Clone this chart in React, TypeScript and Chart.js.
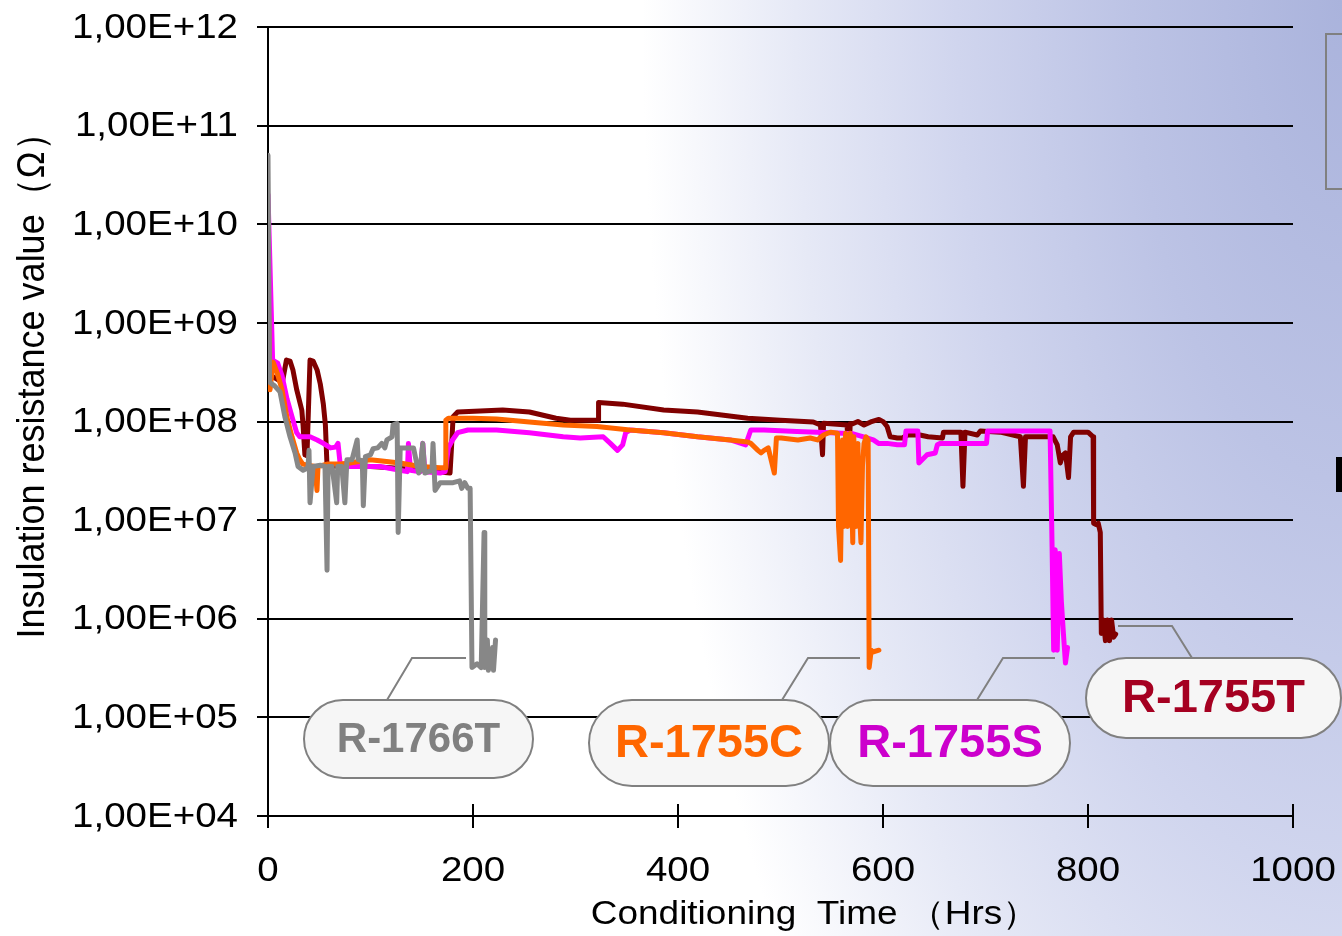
import React, { useEffect, useRef } from "react";
import { Chart, registerables } from "chart.js";

Chart.register(...registerables);

// ---------- data (hours, ohms) ----------
const grayHours = [0, 1.5, 6.5, 11.7, 16.6, 21.5, 26.4, 29.3, 34.2, 39, 40, 41, 44, 51, 55.6, 57.6, 58.6, 62.5, 67, 68, 72, 75, 77, 82, 87, 88, 92, 93, 95, 100, 102.5, 107, 111, 114, 116, 121, 122, 126, 127, 129, 136, 142, 147, 148.4, 151, 153, 160, 161, 163, 168, 175, 180.6, 187, 189, 192, 195, 197.2, 199, 204, 208, 210.8, 211.5, 214, 215, 219, 220, 222];
const grayValues = [5e10, 2.5e8, 2.3e8, 2.0e8, 1.1e8, 7e7, 4.8e7, 3.5e7, 3.2e7, 3.4e7, 5.1e7, 1.5e7, 3.5e7, 3.6e7, 3.5e7, 3.1e6, 3.5e7, 3.5e7, 1.5e7, 3.5e7, 3.5e7, 1.5e7, 4.1e7, 4.1e7, 6.5e7, 4.1e7, 4.0e7, 1.4e7, 4.4e7, 4.6e7, 5.3e7, 5.4e7, 6.0e7, 5.4e7, 6.5e7, 7.0e7, 9.2e7, 9.6e7, 7.5e6, 5.4e7, 5.4e7, 5.4e7, 3.0e7, 3.2e7, 6.0e7, 3.0e7, 3.2e7, 6.0e7, 2.0e7, 2.4e7, 2.4e7, 2.4e7, 2.5e7, 2.1e7, 2.4e7, 2.1e7, 2.1e7, 3.2e5, 3.5e5, 3.2e5, 7.5e6, 3.2e5, 6.1e5, 3.0e5, 5.1e5, 3.0e5, 6.1e5];

const orangeHours = [0, 2, 5, 9, 13.7, 18.5, 23.4, 28, 31, 34, 45.9, 47.8, 48.8, 57.6, 70.3, 80, 99.6, 109, 128.8, 148.4, 167.9, 172.8, 173.5, 176, 187, 200, 223, 255, 288, 321, 353, 386, 419, 451, 468, 471, 478, 481, 484, 488, 494, 496, 500.7, 517, 529, 536, 542, 546, 549, 555.6, 556.6, 558.6, 560.5, 561.5, 563.5, 565.5, 566.5, 568, 570.5, 571.5, 573.5, 575.5, 576.5, 578.5, 580, 581.5, 583.5, 585.5, 586.5, 588.5, 590, 596];
const orangeValues = [3e9, 2.1e8, 4e8, 3.1e8, 2.1e8, 1.1e8, 7e7, 4.8e7, 4.1e7, 3.7e7, 3.5e7, 2e7, 3.5e7, 3.7e7, 3.7e7, 3.8e7, 4.1e7, 4.0e7, 3.8e7, 3.5e7, 3.4e7, 3.4e7, 1.03e8, 1.08e8, 1.08e8, 1.08e8, 1.06e8, 9.9e7, 9.2e7, 8.9e7, 8.2e7, 7.7e7, 7e7, 6.5e7, 6.2e7, 6e7, 5.1e7, 4.8e7, 5.1e7, 5.4e7, 3e7, 6.8e7, 6.8e7, 6.5e7, 6.8e7, 6.5e7, 7.3e7, 7.6e7, 7.8e7, 7.6e7, 8.6e6, 3.9e6, 6.5e7, 8.6e6, 7.6e7, 8.6e6, 6e7, 7.6e7, 5.9e6, 7e7, 8.6e6, 6e7, 1.6e7, 5.9e6, 3.6e7, 6e7, 7e7, 6.5e7, 3.2e5, 4.8e5, 4.6e5, 4.8e5];

const magentaHours = [0, 4.5, 9.5, 13.7, 18.5, 23.4, 28, 31, 41, 48, 54, 61, 66, 68.3, 70.3, 77, 90, 109, 128.8, 136, 137, 139, 148.4, 151, 153, 167.9, 172.8, 176, 180, 185, 195, 223, 255, 288, 304.6, 327, 334, 341, 346, 349, 353.5, 386, 419, 451, 466, 471, 484, 516, 549, 571, 581, 590.6, 595.6, 604, 614, 621, 622.4, 634, 635, 643, 651, 653, 656, 701, 702, 763, 765, 766.5, 768, 770, 772, 774, 776, 778, 780];
const magentaValues = [2e10, 4.2e8, 3.9e8, 2.9e8, 1.7e8, 1.12e8, 7.7e7, 7e7, 7e7, 6.5e7, 6e7, 5.4e7, 5.5e7, 6e7, 3.8e7, 3.5e7, 3.5e7, 3.5e7, 3.2e7, 3.1e7, 6e7, 3.2e7, 3.1e7, 6e7, 3.1e7, 3e7, 3.1e7, 5.4e7, 6.5e7, 7.7e7, 8.2e7, 8.2e7, 7.7e7, 7e7, 6.8e7, 7e7, 6e7, 5.1e7, 5.8e7, 7.7e7, 8.2e7, 7.7e7, 7e7, 6.5e7, 5.8e7, 8.2e7, 8.2e7, 7.9e7, 7.7e7, 7.5e7, 7e7, 6.5e7, 6e7, 6e7, 5.8e7, 5.8e7, 8e7, 8e7, 3.8e7, 4.6e7, 4.8e7, 5.8e7, 6e7, 6e7, 8e7, 8e7, 5e6, 4.8e5, 5e6, 4.8e5, 4.6e6, 1.5e6, 7.1e5, 3.55e5, 5.1e5];

const darkRedHours = [0, 1, 14, 18, 21.5, 24.4, 28, 33, 34.2, 35.5, 36, 38, 41, 44, 48, 51, 54, 56, 57.6, 80, 120, 150, 177.6, 179, 180.6, 185, 207, 229, 255, 281, 295, 322, 322.5, 346, 386, 419, 468, 500, 532, 539, 541, 542, 565, 566.5, 568, 570.5, 575.5, 581.5, 588, 596, 600.5, 604, 607, 614, 619, 624, 636, 644, 658, 659, 676, 678, 680, 692, 695, 714.5, 734, 737, 739, 766, 770, 773, 775, 778, 781, 783, 786, 800, 805, 805.5, 808, 810, 812, 813, 815, 817, 819, 821, 823, 825, 827];
const darkRedValues = [1e10, 3e8, 2.5e8, 4.2e8, 4.1e8, 3.3e8, 2.1e8, 1.3e8, 9.2e7, 5.5e7, 4.6e7, 4.5e7, 4.2e8, 4.1e8, 3.3e8, 2.4e8, 1.5e8, 9.2e7, 3.5e7, 3.6e7, 3.4e7, 3.2e7, 3.0e7, 5.4e7, 1.12e8, 1.25e8, 1.28e8, 1.31e8, 1.25e8, 1.08e8, 1.03e8, 1.03e8, 1.56e8, 1.5e8, 1.31e8, 1.25e8, 1.08e8, 1.03e8, 9.9e7, 9.2e7, 4.6e7, 9.6e7, 9.2e7, 3.5e7, 9.5e7, 9.5e7, 1.0e8, 9.2e7, 9.9e7, 1.05e8, 9.9e7, 8.9e7, 7.0e7, 6.8e7, 6.8e7, 7.3e7, 7.3e7, 7.0e7, 6.8e7, 7.8e7, 7.8e7, 2.2e7, 7.8e7, 7.3e7, 8.0e7, 7.8e7, 7.0e7, 2.2e7, 7.0e7, 7.0e7, 5.8e7, 3.8e7, 4.5e7, 4.8e7, 2.7e7, 7.0e7, 7.8e7, 7.8e7, 7.0e7, 9.3e6, 9.0e6, 9.3e6, 7.5e6, 7.1e5, 9.7e5, 6.0e5, 9.7e5, 6.0e5, 9.7e5, 6.5e5, 7.0e5];

const seriesNames = ["R-1766T", "R-1755C", "R-1755S", "R-1755T"];
const xTickValues = [0, 200, 400, 600, 800, 1000];
const xTickLabels = ["0", "200", "400", "600", "800", "1000"];
const yTickValues = [1e4, 1e5, 1e6, 1e7, 1e8, 1e9, 1e10, 1e11, 1e12];
const yTickLabels = ["1,00E+04", "1,00E+05", "1,00E+06", "1,00E+07", "1,00E+08", "1,00E+09", "1,00E+10", "1,00E+11", "1,00E+12"];
const xTitle = "Conditioning  Time （Hrs）";
const yTitle = "Insulation resistance value（Ω）";

const FONT = '"Liberation Sans", Arial, sans-serif';

function toPoints(h: number[], v: number[]) {
  return h.map((x, i) => ({ x, y: v[i] }));
}

function sText(ctx: CanvasRenderingContext2D, text: string, x: number, y: number, align: CanvasTextAlign, sx = 1.12) {
  ctx.save();
  ctx.translate(x, y);
  ctx.scale(sx, 1);
  ctx.textAlign = align;
  ctx.fillText(text, 0, 0);
  ctx.restore();
}

function pill(ctx: CanvasRenderingContext2D, x1: number, y1: number, x2: number, y2: number, text: string, color: string, size: number) {
  const r = (y2 - y1) / 2;
  ctx.beginPath();
  (ctx as any).roundRect(x1, y1, x2 - x1, y2 - y1, r);
  ctx.fillStyle = "#f6f6f6";
  ctx.fill();
  ctx.strokeStyle = "#808080";
  ctx.lineWidth = 2;
  ctx.stroke();
  ctx.fillStyle = color;
  ctx.font = `bold ${size}px ${FONT}`;
  ctx.textAlign = "center";
  ctx.textBaseline = "middle";
  ctx.fillText(text, (x1 + x2) / 2, (y1 + y2) / 2 + 1);
}

function leader(ctx: CanvasRenderingContext2D, pts: number[][]) {
  ctx.beginPath();
  ctx.moveTo(pts[0][0], pts[0][1]);
  for (let i = 1; i < pts.length; i++) ctx.lineTo(pts[i][0], pts[i][1]);
  ctx.strokeStyle = "#808080";
  ctx.lineWidth = 2;
  ctx.stroke();
}

const overlay = {
  id: "overlay",
  afterDraw(chart: any) {
    const ctx: CanvasRenderingContext2D = chart.ctx;
    const { bottom } = chart.chartArea;
    const xs = chart.scales.x;
    const ys = chart.scales.y;
    ctx.save();
    ctx.strokeStyle = "#000";
    ctx.lineWidth = 2;
    xTickValues.forEach((v) => {
      const px = Math.round(xs.getPixelForValue(v));
      ctx.beginPath();
      ctx.moveTo(px, bottom - 12);
      ctx.lineTo(px, bottom + 12);
      ctx.stroke();
    });
    ctx.fillStyle = "#000";
    ctx.font = `35px ${FONT}`;
    ctx.textBaseline = "middle";
    yTickValues.forEach((v, i) => sText(ctx, yTickLabels[i], 238, ys.getPixelForValue(v) + 1, "right", 1.1));
    xTickValues.forEach((v, i) => sText(ctx, xTickLabels[i], xs.getPixelForValue(v), bottom + 55, "center", 1.1));
    ctx.font = `33px ${FONT}`;
    sText(ctx, xTitle, 815, 915, "center", 1.12);
    ctx.save();
    ctx.font = `36px ${FONT}`;
    ctx.translate(33, 377);
    ctx.rotate(-Math.PI / 2);
    ctx.scale(1, 1.08);
    ctx.textAlign = "center";
    ctx.textBaseline = "middle";
    ctx.fillText(yTitle, 0, 0);
    ctx.restore();

    leader(ctx, [[387, 700], [412, 658], [466, 658]]);
    leader(ctx, [[782, 700], [808, 658], [860, 658]]);
    leader(ctx, [[977, 700], [1003, 658], [1055, 658]]);
    leader(ctx, [[1192, 658], [1172, 626], [1118, 626]]);
    pill(ctx, 304, 700, 533, 778, seriesNames[0], "#808080", 42);
    pill(ctx, 589, 700, 829, 786, seriesNames[1], "#ff6600", 47);
    pill(ctx, 830, 700, 1070, 786, seriesNames[2], "#cc00cc", 47);
    pill(ctx, 1086, 658, 1341, 738, seriesNames[3], "#a50021", 47);

    ctx.strokeStyle = "#808080";
    ctx.lineWidth = 2;
    ctx.strokeRect(1326, 34, 40, 155);
    ctx.fillStyle = "#000";
    ctx.fillRect(1336, 457, 7, 35);
    ctx.restore();
  },
};

export default function App() {
  const ref = useRef<HTMLCanvasElement | null>(null);
  useEffect(() => {
    if (!ref.current) return;
    const common = {
      pointRadius: 0,
      borderWidth: 5,
      tension: 0,
      fill: false,
      borderJoinStyle: "round" as const,
      borderCapStyle: "round" as const,
    };
    const chart = new Chart(ref.current, {
      type: "line",
      data: {
        datasets: [
          { ...common, label: seriesNames[0], data: toPoints(grayHours, grayValues), borderColor: "#878787" },
          { ...common, label: seriesNames[1], data: toPoints(orangeHours, orangeValues), borderColor: "#ff6600" },
          { ...common, label: seriesNames[2], data: toPoints(magentaHours, magentaValues), borderColor: "#ff00ff" },
          { ...common, label: seriesNames[3], data: toPoints(darkRedHours, darkRedValues), borderColor: "#800000" },
        ],
      },
      options: {
        animation: false,
        responsive: false,
        devicePixelRatio: 1,
        elements: { line: { borderWidth: 5 }, point: { radius: 0 } },
        layout: { padding: { top: 27, right: 49, bottom: 0, left: 0 } },
        plugins: { legend: { display: false }, tooltip: { enabled: false }, title: { display: false } },
        scales: {
          x: {
            type: "linear",
            min: 0,
            max: 1000,
            afterFit: (s: any) => { s.height = 120; },
            afterBuildTicks: (s: any) => { s.ticks = xTickValues.map((value) => ({ value })); },
            ticks: { display: false },
            grid: { display: false },
            border: { display: true, color: "#000", width: 2 },
          },
          y: {
            type: "logarithmic",
            min: 1e4,
            max: 1e12,
            afterFit: (s: any) => { s.width = 268; },
            afterBuildTicks: (s: any) => { s.ticks = yTickValues.map((value) => ({ value })); },
            ticks: { display: false },
            grid: { display: true, color: "#000", lineWidth: 2, tickLength: 11, drawTicks: true },
            border: { display: true, color: "#000", width: 2 },
          },
        },
      },
      plugins: [overlay],
    } as any);
    return () => chart.destroy();
  }, []);

  return (
    <div
      style={{
        position: "absolute",
        left: 0,
        top: 0,
        width: 1342,
        height: 936,
        overflow: "hidden",
        background:
          "radial-gradient(ellipse 700px 1600px at 1342px 0px, #aab3dc 0%, #bcc3e5 30%, #d0d5ee 55%, #e6e9f6 78%, #ffffff 100%)",
      }}
    >
      <canvas ref={ref} width={1342} height={936} style={{ display: "block" }} />
    </div>
  );
}
